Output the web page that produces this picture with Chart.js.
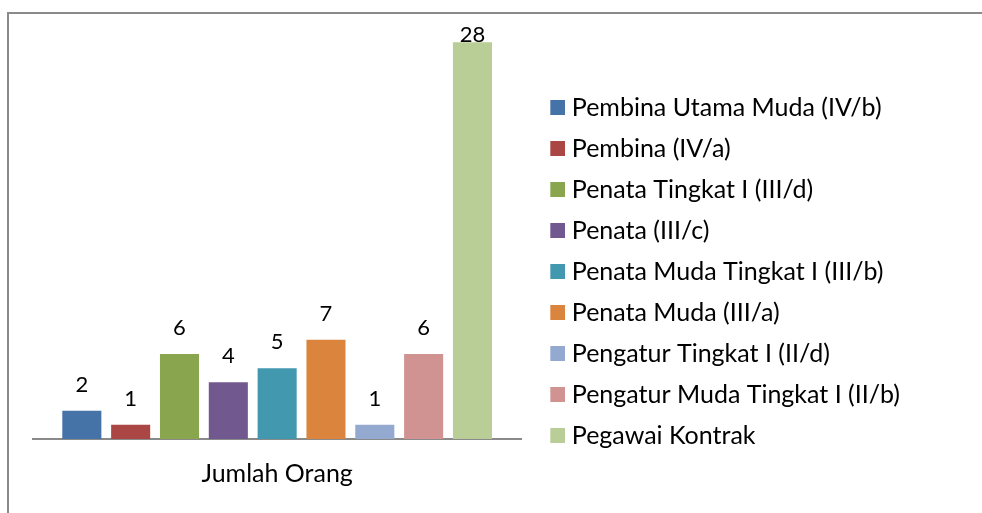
<!DOCTYPE html>
<html>
<head>
<meta charset="utf-8">
<script src="https://cdn.jsdelivr.net/npm/chart.js@4.4.0/dist/chart.umd.min.js"></script>
<style>
  html, body { margin: 0; padding: 0; background: #fff; overflow: hidden; }
  #frame { position: absolute; left: 7px; top: 12px; width: 2000px; height: 2000px;
           border-left: 2px solid #8a8a8a; border-top: 2px solid #8a8a8a; }
  #wrap { position: absolute; left: 0; top: 0; width: 982px; height: 513px; }
</style>
</head>
<body>
<div id="frame"></div>
<div id="wrap"><canvas id="myChart"></canvas></div>
<script>
var kategori = ['Jumlah Orang'];
var golongan = [
    'Pembina Utama Muda (IV/b)',
    'Pembina (IV/a)',
    'Penata Tingkat I (III/d)',
    'Penata (III/c)',
    'Penata Muda Tingkat I (III/b)',
    'Penata Muda (III/a)',
    'Pengatur Tingkat I (II/d)',
    'Pengatur Muda Tingkat I (II/b)',
    'Pegawai Kontrak'
];
var jumlah = [2, 1, 6, 4, 5, 7, 1, 6, 28];
var warna = ['#4572a7', '#aa4643', '#89a54e', '#71588f', '#4198af',
             '#db843d', '#93a9cf', '#d19392', '#b9cd96'];

var fontName = 'Lato';

// kotak kecil legenda (digeser sedikit ke kanan)
function kotak(w) {
    var c = document.createElement('canvas');
    c.width = 34;
    c.height = 15;
    var g = c.getContext('2d');
    g.fillStyle = w;
    g.fillRect(19, 0, 15, 15);
    return c;
}
var kotakLegenda = warna.map(kotak);

// label angka di atas batang
var labelAngka = {
    id: 'labelAngka',
    afterDatasetsDraw: function(chart) {
        var ctx = chart.ctx;
        ctx.save();
        ctx.font = '22px ' + fontName;
        ctx.fillStyle = '#000';
        ctx.textAlign = 'center';
        ctx.textBaseline = 'alphabetic';
        chart.data.datasets.forEach(function(ds, i) {
            var bar = chart.getDatasetMeta(i).data[0];
            var y = Math.max(bar.y - 19, chart.chartArea.top + 28);
            ctx.fillText(String(ds.data[0]), bar.x, y);
        });
        ctx.restore();
    }
};

var datasets = [];
for (var i in golongan) {
    datasets.push({
        label: golongan[i],
        data: [jumlah[i]],
        backgroundColor: warna[i],
        barPercentage: 0.8,
        categoryPercentage: 0.9
    });
}

var ctx = document.getElementById('myChart').getContext('2d');
var grafik = new Chart(ctx, {
    type: 'bar',
    data: {
        labels: kategori,
        datasets: datasets
    },
    options: {
        responsive: true,
        maintainAspectRatio: false,
        animation: false,
        layout: { padding: { left: 33, top: 14, bottom: 4, right: 72 } },
        plugins: {
            tooltip: { enabled: false },
            legend: {
                position: 'right',
                align: 'start',
                title: { display: true, text: '', font: { size: 10, lineHeight: 1 }, padding: { top: 0, bottom: 55 } },
                labels: {
                    usePointStyle: true,
                    pointStyleWidth: 22,
                    boxHeight: 15,
                    padding: 16,
                    color: '#000',
                    font: { family: fontName, size: 25 },
                    generateLabels: function(chart) {
                        var items = Chart.defaults.plugins.legend.labels.generateLabels(chart);
                        items.forEach(function(it) {
                            it.pointStyle = kotakLegenda[it.datasetIndex];
                        });
                        return items;
                    }
                }
            }
        },
        scales: {
            x: {
                grid: { display: false, drawTicks: false },
                border: { display: true, color: '#8a8a8a', width: 2 },
                ticks: { color: '#000', padding: 20, font: { family: fontName, size: 25 } }
            },
            y: {
                display: false,
                min: 0,
                max: 30
            }
        }
    },
    plugins: [labelAngka]
});
</script>
</body>
</html>
